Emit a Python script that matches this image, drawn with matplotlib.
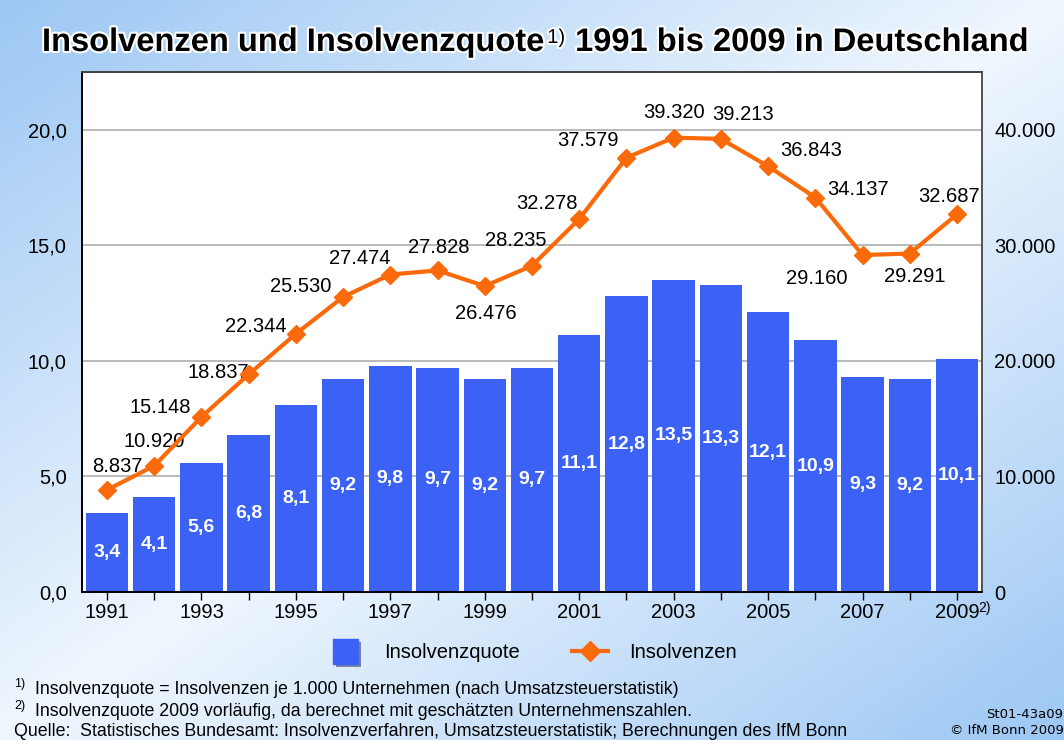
import matplotlib.pyplot as plt
import numpy as np
import matplotlib.patheffects as pe
from matplotlib.lines import Line2D

plt.rcParams['font.family'] = ['Liberation Sans', 'DejaVu Sans']

# data
years = list(range(1991, 2010))
quote = [3.4, 4.1, 5.6, 6.8, 8.1, 9.2, 9.8, 9.7, 9.2, 9.7,
         11.1, 12.8, 13.5, 13.3, 12.1, 10.9, 9.3, 9.2, 10.1]
insolvenzen = [8837, 10920, 15148, 18837, 22344, 25530, 27474, 27828, 26476, 28235,
               32278, 37579, 39320, 39213, 36843, 34137, 29160, 29291, 32687]
left_ticks = [0, 5, 10, 15, 20]
right_ticks = [0, 10000, 20000, 30000, 40000]

# where the line labels sit relative to the markers (pixels)
label_offsets = [(10, 23), (0, 24), (-41, 9), (-30, 2), (-40, 7), (-42, 10), (-31, 16),
                 (1, 23), (1, -27), (-16, 25), (-32, 16), (-38, 17), (0, 25), (22, 24),
                 (43, 16), (43, 8), (-46, -23), (5, -23), (-8, 18)]

bar_color = '#3b62f4'
line_color = '#fa6a0a'


def de_dec(v):
    return f"{v:.1f}".replace('.', ',')


def de_int(v):
    return f"{v:,}".replace(',', '.')


def main():
    fig = plt.figure(figsize=(10.64, 7.4), dpi=100)

    # background gradient
    bg = fig.add_axes([0, 0, 1, 1], zorder=-10)
    xx, yy = np.meshgrid(np.linspace(0, 1, 400), np.linspace(0, 1, 300))
    d = np.abs(xx + yy - 1)[..., None]
    blue = np.array([156, 199, 244]) / 255
    white = np.array([240, 247, 254]) / 255
    bg.imshow(white * (1 - d) + blue * d, aspect='auto', extent=[0, 1, 0, 1], origin='upper')
    bg.axis('off')

    ax = fig.add_axes([82 / 1064, 148 / 740, 900 / 1064, 520 / 740])
    ax.set_facecolor('white')
    ax.bar(years, quote, width=0.9, color=bar_color, zorder=2)
    for yr, q in zip(years, quote):
        ax.text(yr, q / 2, de_dec(q), ha='center', va='center', color='white',
                fontweight='bold', fontsize=14, zorder=3)
    ax.set_xlim(1990.47, 2009.53)
    ax.set_ylim(0, 22.5)
    ax.set_yticks(left_ticks)
    ax.set_yticklabels([de_dec(v) for v in left_ticks])
    ax.yaxis.grid(True, color='#b4b4b4', lw=1.3)
    ax.set_axisbelow(True)
    ax.set_xticks(years)
    ax.set_xticklabels([str(y) if y % 2 else '' for y in years])
    ax.tick_params(axis='y', length=0, pad=11, labelsize=14.5)
    ax.tick_params(axis='x', length=6, width=1, direction='out', pad=2, labelsize=14.5)
    ax.annotate('2)', xy=(2009, 0), xytext=(21, -16), textcoords='offset pixels',
                fontsize=10, ha='left', va='center', annotation_clip=False)

    ax2 = ax.twinx()
    ax2.plot(years, insolvenzen, color=line_color, lw=3, marker='D', ms=9, zorder=4)
    ax2.set_ylim(0, 45000)
    ax2.set_yticks(right_ticks)
    ax2.set_yticklabels([de_int(v) for v in right_ticks])
    ax2.tick_params(axis='y', length=0, pad=9, labelsize=14.5)
    for yr, v, off in zip(years, insolvenzen, label_offsets):
        ax2.annotate(de_int(v), xy=(yr, v), xytext=off, textcoords='offset pixels',
                     ha='center', va='center', fontsize=14.5)

    for a in (ax, ax2):
        a.spines['left'].set_color('black')
        a.spines['bottom'].set_color('black')
        a.spines['top'].set_color('#444444')
        a.spines['right'].set_color('#555555')
        for s in a.spines.values():
            s.set_linewidth(1.3)

    # title with superscript
    stroke = [pe.withStroke(linewidth=3, foreground='white')]
    t1 = fig.text(42 / 1064, 1 - 58 / 740, 'Insolvenzen und Insolvenzquote', fontsize=23.5,
                  fontweight='bold', ha='left', va='bottom', path_effects=stroke)
    s1 = ax.annotate('1)', xy=(1, 1), xycoords=t1, xytext=(3, -1), textcoords='offset pixels',
                     fontsize=14.5, ha='left', va='top',
                     annotation_clip=False, path_effects=stroke)
    ax.annotate(' 1991 bis 2009 in Deutschland', xy=(1, 0), xycoords=(s1, t1),
                xytext=(1, 0), textcoords='offset pixels', fontsize=23.5, fontweight='bold',
                ha='left', va='bottom', annotation_clip=False, path_effects=stroke)

    # legend
    handles = [Line2D([], [], marker='s', ms=18, color=bar_color, ls='none',
                      path_effects=[pe.SimplePatchShadow(offset=(2, -2), alpha=0.5), pe.Normal()]),
               Line2D([], [], color=line_color, lw=3, marker='D', ms=10)]
    fig.legend(handles, ['Insolvenzquote', 'Insolvenzen'], loc='center',
               bbox_to_anchor=(0.5, 1 - 653 / 740), ncol=2, frameon=False, fontsize=14.5,
               handlelength=1.8, handletextpad=1.0, columnspacing=2.6)

    # footnotes
    fig.text(14 / 1064, 1 - 684 / 740, '1)', fontsize=9, va='center')
    fig.text(35 / 1064, 1 - 689 / 740,
             'Insolvenzquote = Insolvenzen je 1.000 Unternehmen (nach Umsatzsteuerstatistik)',
             fontsize=12.8, va='center')
    fig.text(14 / 1064, 1 - 706 / 740, '2)', fontsize=9, va='center')
    fig.text(35 / 1064, 1 - 711 / 740,
             'Insolvenzquote 2009 vorläufig, da berechnet mit geschätzten Unternehmenszahlen.',
             fontsize=12.8, va='center')
    fig.text(14 / 1064, 1 - 732 / 740,
             'Quelle:  Statistisches Bundesamt: Insolvenzverfahren, Umsatzsteuerstatistik; '
             'Berechnungen des IfM Bonn', fontsize=12.8, va='center')
    fig.text(986 / 1064, 1 - 714 / 740, 'St01-43a09', fontsize=9.5, va='center',
             family='DejaVu Sans')
    fig.text(950 / 1064, 1 - 731 / 740, '© IfM Bonn 2009', fontsize=9.5, va='center',
             family='DejaVu Sans')

    fig.savefig('out.png', dpi=100)


if __name__ == '__main__':
    main()
